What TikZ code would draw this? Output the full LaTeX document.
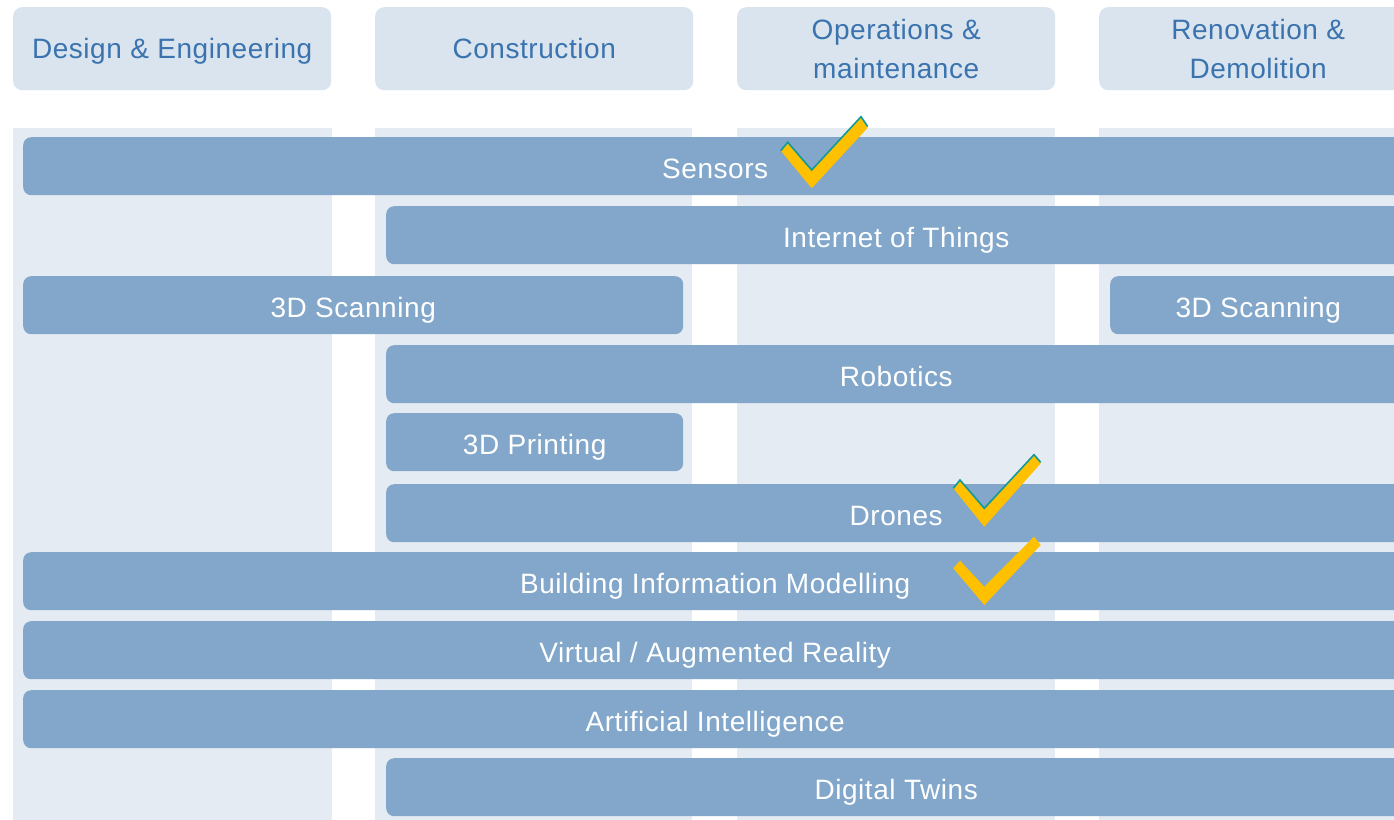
\documentclass[tikz,border=0pt]{standalone}
\usepackage{fontspec}
\setmainfont{Liberation Sans}[LetterSpace=2]
\definecolor{barc}{HTML}{82A7CA}
\definecolor{headc}{HTML}{D9E4EF}
\definecolor{colc}{HTML}{E4EBF3}
\definecolor{headtxt}{HTML}{3A73AE}
\definecolor{gold}{HTML}{FFC000}
\definecolor{teal}{HTML}{109A9A}
\tikzset{
  head/.style={fill=headc, draw=none, rounded corners=9pt, minimum height=83pt, minimum width=318pt,
    anchor=north west, inner sep=0pt, text=headtxt, align=center,
    font=\fontsize{28}{39}\selectfont},
  bar/.style={fill=barc, draw=none, rounded corners=8pt, minimum height=58pt,
    text height=24pt, text depth=0pt,
    anchor=north west, inner sep=0pt, text=white, font=\fontsize{28}{32}\selectfont},
  colbg/.style={fill=colc, draw=none},
  checkfill/.style={fill=gold, draw=none},
  checkedge/.style={draw=teal, line width=1.6pt, line join=miter},
}
\begin{document}
\begin{tikzpicture}[x=1pt,y=-1pt]
\useasboundingbox (0,0) rectangle (1394,819);
\fill[white] (0,0) rectangle (1394,819);
\clip (0,0) rectangle (1394,819);
% column backgrounds
\fill[colbg] (13,128) rectangle (332,830);
\fill[colbg] (375,128) rectangle (692,830);
\fill[colbg] (737,128) rectangle (1055,830);
\fill[colbg] (1099,128) rectangle (1420,830);
% headers
\node[head, text depth=0pt] (h1) at (13,7) {Design \& Engineering};
\node[head] (h2) at (375,7) {Construction};
\node[head] (h3) at (737,7) {Operations \&\\maintenance};
\node[head] (h4) at (1099,7) {Renovation \&\\Demolition};
% bars
\node[bar, minimum width=1384pt] (sens) at (23,137) {Sensors};
\node[bar, minimum width=1020pt] (iot) at (386,206) {Internet of Things};
\node[bar, minimum width=660pt] (scan1) at (23,276) {3D Scanning};
\node[bar, minimum width=296pt] (scan2) at (1110,276) {3D Scanning};
\node[bar, minimum width=1020pt] (rob) at (386,345) {Robotics};
\node[bar, minimum width=297pt] (print) at (386,413) {3D Printing};
\node[bar, minimum width=1020pt] (dron) at (386,484) {Drones};
\node[bar, minimum width=1384pt] (bim) at (23,552) {Building Information Modelling};
\node[bar, minimum width=1384pt] (vr) at (23,621) {Virtual / Augmented Reality};
\node[bar, minimum width=1384pt] (ai) at (23,690) {Artificial Intelligence};
\node[bar, minimum width=1020pt] (dt) at (386,758) {Digital Twins};
% check marks
\fill[checkfill] (780.7,150.7) -- (787.7,142.3) -- (811.7,170) -- (861,116.7) -- (867.7,127.7) -- (811.7,188.3) -- cycle;
\draw[checkedge] (780.7,150.7) -- (787.7,142.3) -- (811.7,170) -- (861,116.7) -- (867.7,126.5);
\fill[checkfill] (953.3,488.3) -- (960,480) -- (984.3,508.3) -- (1034,454.7) -- (1040.7,463.3) -- (984.3,526.7) -- cycle;
\draw[checkedge] (953.3,488.3) -- (960,480) -- (984.3,508.3) -- (1034,454.7) -- (1040.7,462.3);
\fill[checkfill] (953.3,568.3) -- (960,560.7) -- (984.3,586.7) -- (1034,536.7) -- (1040.7,545) -- (984.3,605) -- cycle;
\end{tikzpicture}
\end{document}
